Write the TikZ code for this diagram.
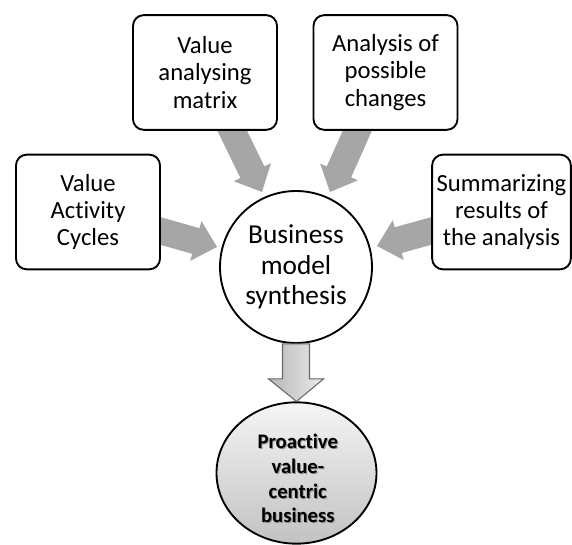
\documentclass[tikz,border=0pt]{standalone}
\usepackage{fontspec}
\setmainfont{Carlito}[Ligatures=NoCommon]
\usetikzlibrary{calc,shapes.geometric}
\tikzset{
  stepbox/.style={draw=black, line width=1.4pt, rounded corners=8pt, fill=white,
    minimum width=108pt, minimum height=86pt, align=center,
    font=\fontsize{18.5pt}{20.5pt}\selectfont, inner sep=1pt},
  hubcircle/.style={draw=black, line width=1.4pt, circle, fill=white,
    minimum size=114pt, align=center, font=\fontsize{20.5pt}{23pt}\selectfont, inner sep=0pt},
  goal/.style={draw=black, line width=1.4pt, ellipse, top color=black!4, bottom color=black!24,
    minimum width=120pt, minimum height=106pt, inner sep=0pt},
  goaltext/.style={align=center, font=\bfseries\fontsize{15.5pt}{18.6pt}\selectfont},
  grayarrow/.style={fill=black!35, draw=none},
  downarrow/.style={left color=black!28, right color=black!8, draw=black!60, line width=0.8pt, line join=miter},
}
\newcommand\blockarr[2]{%
  \path[grayarrow]
    ($(#1)!10pt!90:(#2)$) --
    ($($(#2)!16.5pt!(#1)$)!10pt!-90:(#1)$) --
    ($($(#2)!16.5pt!(#1)$)!15.5pt!-90:(#1)$) --
    (#2) --
    ($($(#2)!16.5pt!(#1)$)!15.5pt!90:(#1)$) --
    ($($(#2)!16.5pt!(#1)$)!10pt!90:(#1)$) --
    ($(#1)!10pt!-90:(#2)$) -- cycle;}
\begin{document}
\begin{tikzpicture}[x=0.75pt,y=-0.75pt]
\useasboundingbox (0,0) rectangle (572,545);
% arrow anchor coordinates
\coordinate (a1s) at (150,228);
\coordinate (a1e) at (217,247);
\coordinate (a2s) at (226,118);
\coordinate (a2e) at (262,192);
\coordinate (a3s) at (363,118);
\coordinate (a3e) at (330,192);
\coordinate (a4s) at (442,228);
\coordinate (a4e) at (377,246);
\blockarr{a1s}{a1e}
\blockarr{a2s}{a2e}
\blockarr{a3s}{a3e}
\blockarr{a4s}{a4e}
% boxes
\node[stepbox] (vam) at (205,72.5) {Value\\analysing\\matrix};
\node[stepbox] (apc) at (385.5,72.5) {Analysis of\\possible\\changes};
\node[stepbox] (vac) at (88,212) {Value\\Activity\\Cycles};
\node[stepbox, minimum width=104pt] (sum) at (501.5,212) {Summarizing\\results of\\the analysis};
% hub
\node[hubcircle] (bms) at (296,267) {Business\\model\\synthesis};
% goal
\node[goal] (pvb) at (296.5,473) {};
\node[goaltext, text=black!45] at (298.8,479.5) {Proactive\\value-\\centric\\business};
\node[goaltext] (pvbt) at (297.8,478.5) {Proactive\\value-\\centric\\business};
% down arrow
\coordinate (dtop) at (bms.south);
\coordinate (dtip) at (pvb.north);
\path[downarrow] ($(dtop)+(-13.5,0)$) -- ($(dtop)+(13.5,0)$) -- ($(dtop)+(13.5,35)$) -- ($(dtop)+(27.5,35)$)
  -- (dtip) -- ($(dtop)+(-27.5,35)$) -- ($(dtop)+(-13.5,35)$) -- cycle;
\end{tikzpicture}
\end{document}
